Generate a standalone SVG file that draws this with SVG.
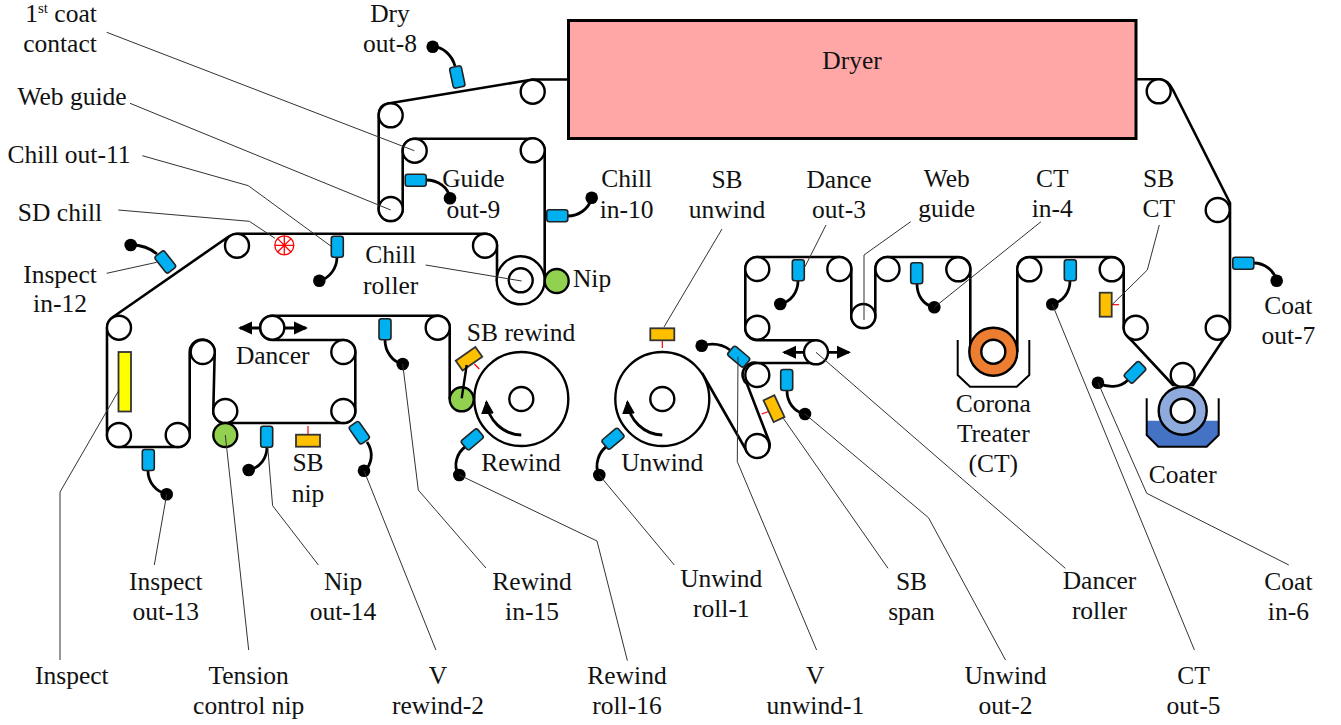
<svg xmlns="http://www.w3.org/2000/svg" width="1341" height="725" viewBox="0 0 1341 725">
<style>
text{font-family:"Liberation Serif","Times New Roman",serif;font-size:25.5px;fill:#111;text-anchor:middle}
.web{fill:none;stroke:#000;stroke-width:2.6;stroke-linejoin:round}
.r{fill:#fff;stroke:#000;stroke-width:2.4}
.g{fill:#92d050;stroke:#000;stroke-width:2.4}
.s{fill:#00b0f0;stroke:#222;stroke-width:1.6}
.c{fill:none;stroke:#000;stroke-width:2.8}
.d{fill:#000}
.o{fill:#ffc000;stroke:#333;stroke-width:1.8}
.t{stroke:#f00;stroke-width:1.2;fill:none}
.l{fill:none;stroke:#333;stroke-width:1}
.a{fill:none;stroke:#000;stroke-width:2.8}
</style>
<defs>
<marker id="ah" markerUnits="userSpaceOnUse" markerWidth="16" markerHeight="14" refX="12" refY="7" orient="auto-start-reverse"><path d="M0,0.5 L14,7 L0,13.5 z" fill="#000"/></marker>
</defs>
<g id="web">
<path class="web" d="M568,79.5 H533 L388,103.5 Q378.7,105 378.7,115 V209 A12 12 0 0 0 402.7,209 V150.7 A12 12 0 0 1 414.7,138.7 H532.7 A12 12 0 0 1 544.7,150.7 V275"/>
<path class="web" d="M497,281 V245.7 A12 12 0 0 0 485,233.7 H240 Q233,233.7 228,237 L113,317 Q107,321 107,328 V435 A12 12 0 0 0 119,447 H177.7 A12 12 0 0 0 189.7,435 V352 A12.5 12.5 0 0 1 214.7,352 L213.3,411 A12 12 0 0 0 225.3,423 H343.3 A12 12 0 0 0 355.3,411 V352 A12 12 0 0 0 343.3,340 H272.3 A12 12 0 0 1 272.3,315.7 H437.7 A12 12 0 0 1 449.7,327.7 V399.3"/>
<path class="web" d="M702,373 L745.5,449 A12 12 0 0 0 769,441 L747,384 A12 12 0 0 1 757.3,363 H816 A12 12 0 0 0 816,340.3 H757.3 A12 12 0 0 1 745.3,327.7 V269 A12 12 0 0 1 757.3,257 H839.3 A12 12 0 0 1 851.3,269 V316 A12 12 0 0 0 875.3,316 V269 A12 12 0 0 1 887.3,257 H958.3 A12 12 0 0 1 970.3,269 V351.7"/>
<path class="web" d="M1017.3,351.7 V269 A12 12 0 0 1 1029.3,257 H1111.7 A12 12 0 0 1 1123.7,269 V327.7 Q1123.7,334 1131.7,340.7 L1173,385 H1193 L1223,340 Q1230,332 1230,327.7 V203 L1173,90 Q1168,79.3 1158.7,79.3 H1136"/>
<path class="a" marker-start="url(#ah)" marker-end="url(#ah)" d="M240,328 H306"/>
<path class="a" marker-start="url(#ah)" marker-end="url(#ah)" d="M784,352.3 H849"/>
</g>
<g id="dryer"><rect x="568.5" y="20.5" width="567.5" height="118" fill="#ffa6a6" stroke="#000" stroke-width="3"/><text x="852" y="69">Dryer</text></g>
<g id="roller-1"><circle class="r" cx="532.7" cy="91.7" r="12"/></g>
<g id="roller-2"><circle class="r" cx="390.7" cy="115.3" r="12"/></g>
<g id="roller-3"><circle class="r" cx="414.7" cy="150.7" r="12"/></g>
<g id="roller-4"><circle class="r" cx="532.7" cy="150.3" r="12"/></g>
<g id="roller-5"><circle class="r" cx="390.7" cy="209" r="12"/></g>
<g id="roller-6"><circle class="r" cx="485" cy="245.7" r="12"/></g>
<g id="roller-7"><circle class="r" cx="237" cy="245.7" r="12"/></g>
<g id="roller-8"><circle class="r" cx="119" cy="327.7" r="12"/></g>
<g id="roller-9"><circle class="r" cx="119" cy="435" r="12"/></g>
<g id="roller-10"><circle class="r" cx="177.7" cy="435" r="12"/></g>
<g id="roller-11"><circle class="r" cx="202.7" cy="352" r="12"/></g>
<g id="roller-12"><circle class="r" cx="225.3" cy="411" r="12"/></g>
<g id="roller-13"><circle class="r" cx="343.3" cy="352" r="12"/></g>
<g id="roller-14"><circle class="r" cx="343.3" cy="411" r="12"/></g>
<g id="roller-15"><circle class="r" cx="272.3" cy="327.7" r="12"/></g>
<g id="roller-16"><circle class="r" cx="437.7" cy="327.7" r="12"/></g>
<g id="roller-17"><circle class="r" cx="757.3" cy="375" r="12"/></g>
<g id="roller-18"><circle class="r" cx="757.3" cy="446" r="12"/></g>
<g id="roller-19"><circle class="r" cx="816" cy="352.3" r="12"/></g>
<g id="roller-20"><circle class="r" cx="757.3" cy="269" r="12"/></g>
<g id="roller-21"><circle class="r" cx="757.3" cy="327.7" r="12"/></g>
<g id="roller-22"><circle class="r" cx="839.3" cy="269" r="12"/></g>
<g id="roller-23"><circle class="r" cx="863.3" cy="316" r="12"/></g>
<g id="roller-24"><circle class="r" cx="887.5" cy="269" r="12"/></g>
<g id="roller-25"><circle class="r" cx="958.3" cy="269.3" r="12"/></g>
<g id="roller-26"><circle class="r" cx="1029.3" cy="269.3" r="12"/></g>
<g id="roller-27"><circle class="r" cx="1111.7" cy="269.3" r="12"/></g>
<g id="roller-28"><circle class="r" cx="1135.7" cy="327.7" r="12"/></g>
<g id="roller-29"><circle class="r" cx="1217.7" cy="327.7" r="12"/></g>
<g id="roller-30"><circle class="r" cx="1217.7" cy="210" r="12"/></g>
<g id="roller-31"><circle class="r" cx="1158.7" cy="91.3" r="12"/></g>
<g id="roller-32"><circle class="r" cx="1182.7" cy="375" r="12"/></g>
<g id="chill-roller"><circle class="r" cx="520.7" cy="280.3" r="24"/><circle class="r" cx="520.7" cy="280.3" r="12"/><text x="390.7" y="263.3">Chill</text><text x="390.7" y="294">roller</text></g>
<g id="nip"><circle class="g" cx="556.7" cy="281" r="12"/><text x="592" y="287.3">Nip</text></g>
<g id="tension-nip"><circle class="g" cx="225.3" cy="435" r="12"/><text x="248.7" y="684">Tension</text><text x="248.7" y="714">control nip</text></g>
<g id="rewind-nip"><circle class="g" cx="461.7" cy="399.3" r="12"/></g>
<g id="rewind"><circle class="r" cx="521.3" cy="399" r="47"/><circle class="r" cx="521.3" cy="399" r="12"/><path class="a" marker-end="url(#ah)" d="M521.3,435 A36 36 0 0 1 486.5,402"/><text x="521" y="471">Rewind</text></g>
<g id="unwind"><circle class="r" cx="662.3" cy="399" r="47"/><circle class="r" cx="662.3" cy="399" r="12"/><path class="a" marker-end="url(#ah)" d="M662.3,435 A36 36 0 0 1 627.5,402"/><text x="662.3" y="471">Unwind</text></g>
<g id="corona"><path d="M957.7,340 V375 L970,386.7 H1016.7 L1029.3,375 V340" fill="none" stroke="#000" stroke-width="2"/><circle cx="993.3" cy="351.7" r="24" fill="#ed7d31" stroke="#000" stroke-width="2.4"/><circle class="r" cx="993.3" cy="351.7" r="12"/><text x="993.3" y="411.7">Corona</text><text x="993.3" y="441.7">Treater</text><text x="993.3" y="471.7">(CT)</text></g>
<g id="coater"><path d="M1146.7,420.7 V435 L1158.3,446.7 H1206.7 L1218.7,435 V420.7 z" fill="#4472c4"/><path d="M1146.7,398.3 V435 L1158.3,446.7 H1206.7 L1218.7,435 V398.3" fill="none" stroke="#000" stroke-width="2"/><circle cx="1182.7" cy="410.7" r="24" fill="#8faadc" stroke="#000" stroke-width="2.4"/><circle class="r" cx="1182.7" cy="410.7" r="12"/><text x="1182.7" y="483.3">Coater</text></g>
<g id="inspect"><rect x="118.5" y="352" width="12.5" height="59.5" fill="#ffff00" stroke="#333" stroke-width="1.8"/><text x="71.8" y="684">Inspect</text></g>
<g id="sd-chill" stroke="#f00" stroke-width="1.3" fill="none"><circle cx="284.3" cy="245.3" r="9.5"/><path d="M274.8,245.3H293.8M284.3,235.8V254.8M277.6,238.6L291,252M277.6,252L291,238.6"/><text x="60" y="220.7" stroke="none">SD chill</text></g>
<g id="sensor-8"><path class="c" d="M455,66 C452,55 443,47 433,46.7"/><circle class="d" cx="432.7" cy="46.7" r="6.3"/><rect class="s" x="-6" y="-10.5" width="12" height="21" rx="2.5" transform="translate(457.3,77) rotate(-12)"/><text x="390" y="21.7">Dry</text><text x="390" y="51.7">out-8</text></g>
<g id="sensor-9"><path class="c" d="M426,180 C438,180 448,187 450,198"/><circle class="d" cx="450" cy="198.3" r="6.3"/><rect class="s" x="-10.5" y="-6" width="21" height="12" rx="2.5" transform="translate(415.7,180.3)"/><text x="473.3" y="186.7">Guide</text><text x="473.3" y="217.7">out-9</text></g>
<g id="sensor-10"><path class="c" d="M568,216 C578,216 588,210 592,198"/><circle class="d" cx="591.7" cy="197.7" r="6.3"/><rect class="s" x="-10.5" y="-6" width="21" height="12" rx="2.5" transform="translate(557.3,215.7)"/><text x="626.7" y="187">Chill</text><text x="626.7" y="217.7">in-10</text></g>
<g id="sensor-11"><path class="c" d="M337,257 C337,268 330,278 319,281"/><circle class="d" cx="319.3" cy="280.7" r="6.3"/><rect class="s" x="-6" y="-10.5" width="12" height="21" rx="2.5" transform="translate(337.3,246.7)"/><text x="69" y="163">Chill out-11</text></g>
<g id="sensor-12"><path class="c" d="M157,254 C150,248 140,245 131,245"/><circle class="d" cx="130.7" cy="245" r="6.3"/><rect class="s" x="-6" y="-10.5" width="12" height="21" rx="2.5" transform="translate(165.3,262) rotate(-38)"/><text x="60" y="282.7">Inspect</text><text x="60" y="312">in-12</text></g>
<g id="sensor-13"><path class="c" d="M148,471 C148,482 156,492 167,494"/><circle class="d" cx="166.7" cy="494.3" r="6.3"/><rect class="s" x="-6" y="-10.5" width="12" height="21" rx="2.5" transform="translate(148.3,460)"/><text x="165.8" y="590">Inspect</text><text x="165.8" y="620">out-13</text></g>
<g id="sensor-14"><path class="c" d="M267,447 C267,458 260,468 249,470"/><circle class="d" cx="248.7" cy="470" r="6.3"/><rect class="s" x="-6" y="-10.5" width="12" height="21" rx="2.5" transform="translate(266.7,436.7)"/><text x="343" y="590">Nip</text><text x="343" y="620">out-14</text></g>
<g id="sensor-v2"><path class="c" d="M367,442 C374,452 372,465 364,471"/><circle class="d" cx="364" cy="470.7" r="6.3"/><rect class="s" x="-6" y="-10.5" width="12" height="21" rx="2.5" transform="translate(359.3,432.7) rotate(-35)"/><text x="438" y="684">V</text><text x="438" y="714">rewind-2</text></g>
<g id="sensor-15"><path class="c" d="M385,340 C385,351 392,362 403,364"/><circle class="d" cx="402.7" cy="364" r="6.3"/><rect class="s" x="-6" y="-10.5" width="12" height="21" rx="2.5" transform="translate(385,329.3)"/><text x="532" y="590">Rewind</text><text x="532" y="620">in-15</text></g>
<g id="sensor-16"><path class="c" d="M465,447 C458,452 452,465 459,475"/><circle class="d" cx="459.3" cy="475" r="6.3"/><rect class="s" x="-6" y="-10.5" width="12" height="21" rx="2.5" transform="translate(472.3,439.3) rotate(50)"/><text x="627" y="684">Rewind</text><text x="627" y="714">roll-16</text></g>
<g id="sensor-u1"><path class="c" d="M606,447 C599,452 594,465 599,475"/><circle class="d" cx="599.3" cy="475" r="6.3"/><rect class="s" x="-6" y="-10.5" width="12" height="21" rx="2.5" transform="translate(613,438.7) rotate(50)"/><text x="721.3" y="586.7">Unwind</text><text x="721.3" y="616.7">roll-1</text></g>
<g id="sensor-v1"><path class="c" d="M730,350 C722,344 712,343 702,345.7"/><circle class="d" cx="701.7" cy="345.7" r="6.3"/><rect class="s" x="-6" y="-10.5" width="12" height="21" rx="2.5" transform="translate(738.7,356.7) rotate(-50)"/><text x="815.3" y="684">V</text><text x="815.3" y="714">unwind-1</text></g>
<g id="sensor-u2"><path class="c" d="M787,391 C787,402 794,412 805,414"/><circle class="d" cx="805" cy="414" r="6.3"/><rect class="s" x="-6" y="-10.5" width="12" height="21" rx="2.5" transform="translate(786.7,380)"/><text x="1005.5" y="684">Unwind</text><text x="1005.5" y="714">out-2</text></g>
<g id="sensor-3"><path class="c" d="M798,281 C798,292 791,302 780,304"/><circle class="d" cx="780.3" cy="304" r="6.3"/><rect class="s" x="-6" y="-10.5" width="12" height="21" rx="2.5" transform="translate(798.3,270.3)"/><text x="839" y="188">Dance</text><text x="839" y="218">out-3</text></g>
<g id="sensor-4"><path class="c" d="M917,284 C917,295 923,305 934,307"/><circle class="d" cx="934.3" cy="307.3" r="6.3"/><rect class="s" x="-6" y="-10.5" width="12" height="21" rx="2.5" transform="translate(916.7,273.3)"/><text x="1052.3" y="187">CT</text><text x="1052.3" y="217">in-4</text></g>
<g id="sensor-5"><path class="c" d="M1070,281 C1070,292 1063,302 1052,304"/><circle class="d" cx="1052.3" cy="304.3" r="6.3"/><rect class="s" x="-6" y="-10.5" width="12" height="21" rx="2.5" transform="translate(1070.3,270.3)"/><text x="1193.5" y="684">CT</text><text x="1193.5" y="714">out-5</text></g>
<g id="sensor-6"><path class="c" d="M1128,380 C1120,388 1108,388 1098,383"/><circle class="d" cx="1098" cy="382.7" r="6.3"/><rect class="s" x="-6" y="-10.5" width="12" height="21" rx="2.5" transform="translate(1135,372.3) rotate(45)"/><text x="1288.4" y="590">Coat</text><text x="1288.4" y="620">in-6</text></g>
<g id="sensor-7"><path class="c" d="M1254,263 C1264,263 1274,270 1277,281"/><circle class="d" cx="1276.7" cy="280.7" r="6.3"/><rect class="s" x="-10.5" y="-6" width="21" height="12" rx="2.5" transform="translate(1243.3,263.3)"/><text x="1288.3" y="314.3">Coat</text><text x="1288.3" y="344.3">out-7</text></g>
<g id="sb-unwind"><path class="t" d="M662.3,340V348"/><rect class="o" x="-12" y="-6" width="24" height="12" transform="translate(662.3,334.3)"/><text x="727" y="188">SB</text><text x="727" y="218">unwind</text></g>
<g id="sb-rewind"><path class="t" d="M474.3,364L479.3,369"/><rect class="o" x="-12" y="-6" width="24" height="12" transform="translate(469,358.7) rotate(-35)"/><text x="521" y="341">SB rewind</text></g>
<g id="sb-span"><path class="t" d="M768,411.7L761.7,414"/><rect class="o" x="-6" y="-12" width="12" height="24" transform="translate(774,408.7) rotate(-25)"/><text x="911.5" y="590">SB</text><text x="911.5" y="620">span</text></g>
<g id="sb-nip"><path class="t" d="M308,435V426"/><rect class="o" x="-12" y="-6" width="24" height="12" transform="translate(308,440.7)"/><text x="308" y="471">SB</text><text x="308" y="501.7">nip</text></g>
<g id="sb-ct"><path class="t" d="M1112,304.7H1119"/><rect class="o" x="-6" y="-12" width="12" height="24" transform="translate(1105.7,304.7)"/><text x="1158.7" y="187">SB</text><text x="1158.7" y="217">CT</text></g>
<g id="labels">
<text x="61" y="21.7">1<tspan font-size="15" dy="-9">st</tspan><tspan dy="9"> coat</tspan></text><text x="60" y="51.7">contact</text>
<text x="72" y="105">Web guide</text>
<text x="272.7" y="364.3">Dancer</text>
<text x="946.7" y="186.7">Web</text><text x="946.7" y="216.7">guide</text>
<text x="1099.5" y="589">Dancer</text><text x="1099.5" y="619">roller</text>
</g>
<g id="connectors">
<path class="l" d="M106.7,32.3L414.3,150.7"/>
<path class="l" d="M130,103.3L390.7,210"/>
<path class="l" d="M142.3,155.7L248.3,185.7L331.7,246.7"/>
<path class="l" d="M118.3,210L249.3,221.3L275,238.3"/>
<path class="l" d="M106.7,273.3L156.7,262.3"/>
<path class="l" d="M425.7,265L521.7,281"/>
<path class="l" d="M119,390L60,492V660"/>
<path class="l" d="M166.7,494.3L154.3,565"/>
<path class="l" d="M225.3,435L248.7,650"/>
<path class="l" d="M267.7,446.7L272.6,505.7L318.4,565"/>
<path class="l" d="M364,470.7L435.9,650"/>
<path class="l" d="M402.7,364L418.3,490L485.9,568"/>
<path class="l" d="M459.3,475L597,541L627.4,660.7"/>
<path class="l" d="M599.3,475L674.3,565"/>
<path class="l" d="M738,356.7L737.3,461.7L816.6,650"/>
<path class="l" d="M664,327L722,229"/>
<path class="l" d="M783.3,418.3L888,568.3"/>
<path class="l" d="M805,414L928.5,517.7L1005.5,660"/>
<path class="l" d="M816,352.3L1065.3,568.3"/>
<path class="l" d="M1052.3,304.3L1194.4,650"/>
<path class="l" d="M1098,382.7L1146.7,493.3L1288.8,565"/>
<path class="l" d="M805,266.7L826,225"/>
<path class="l" d="M864,320V255L910.7,221.7"/>
<path class="l" d="M934.3,307.3L1041,221.7"/>
<path class="l" d="M1159.3,225L1147.3,270L1111.7,305"/>
<path d="M466.7,365L461.7,398.3" fill="none" stroke="#000" stroke-width="2.4"/>
</g>
</svg>
